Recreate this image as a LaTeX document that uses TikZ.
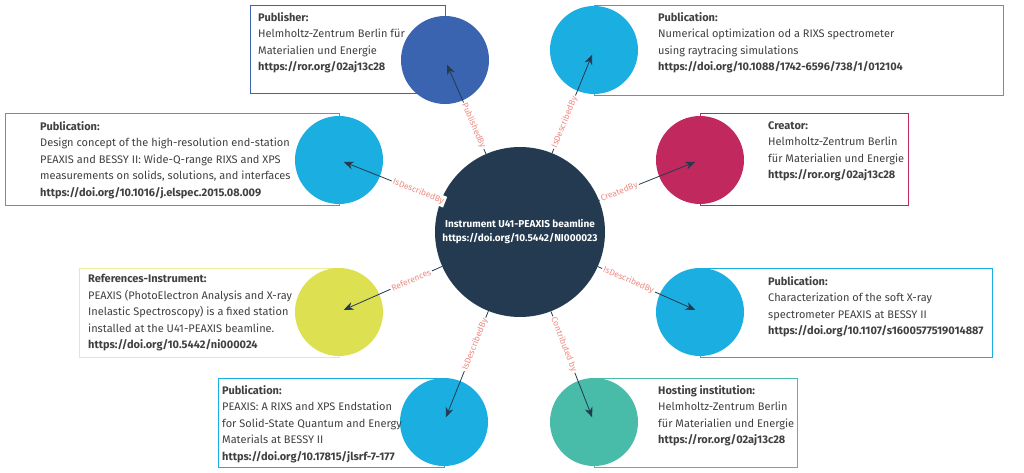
\documentclass[tikz,border=0pt]{standalone}
\usepackage{fontspec}
\setmainfont{Fira Sans}
\usetikzlibrary{arrows.meta,positioning}
\definecolor{hubblue}{HTML}{233A50}
\definecolor{pubblue}{HTML}{3A63B0}
\definecolor{skyblue}{HTML}{1AAFE0}
\definecolor{creatorred}{HTML}{C0285E}
\definecolor{refyellow}{HTML}{DDE050}
\definecolor{hostteal}{HTML}{48BCA8}
\definecolor{relsalmon}{HTML}{F08A80}
\tikzset{
  box/.style={draw, line width=0.9pt, rectangle, anchor=north west, inner sep=0pt},
  dot/.style={circle, minimum size=88pt, inner sep=0pt},
  info/.style={align=left, anchor=north west, inner sep=0pt, font=\fontsize{11}{16.5}\selectfont, text=black!75},
  rel/.style={draw=hubblue, thick, -{Stealth[length=10pt,width=8pt]}, shorten >=5pt},
  rellab/.style={sloped, fill=white, inner sep=1.5pt, text=relsalmon, font=\fontsize{8.5}{9}\selectfont}
}
\begin{document}
\begin{tikzpicture}[x=1pt, y=-1pt]
    \useasboundingbox[fill=white] (0,0) rectangle (1024,473);
    % boxes
    \node [box, draw=pubblue, minimum width=195pt, minimum height=88pt] (b1) at (250,5) {};
    \node [box, draw=skyblue, minimum width=409pt, minimum height=90pt] (b2) at (594,5) {};
    \node [box, draw=skyblue, minimum width=334pt, minimum height=92pt] (b3) at (5,113) {};
    \node [box, draw=creatorred, minimum width=208pt, minimum height=92pt] (b4) at (700,113) {};
    \node [box, draw=refyellow!60, minimum width=260pt, minimum height=89pt] (b5) at (79,268) {};
    \node [box, draw=skyblue, minimum width=292pt, minimum height=89pt] (b6) at (700,268) {};
    \node [box, draw=skyblue, minimum width=226pt, minimum height=89pt] (b7) at (218,378) {};
    \node [box, draw=hostteal, minimum width=203pt, minimum height=89pt] (b8) at (594,378) {};
    % circles
    \node [dot, fill=pubblue] (pub) at (445,60) {};
    \node [dot, fill=skyblue] (num) at (594,50) {};
    \node [dot, fill=skyblue] (des) at (339,160) {};
    \node [dot, fill=creatorred] (cre) at (700,160) {};
    \node [dot, fill=refyellow] (ref) at (339,312) {};
    \node [dot, fill=skyblue] (cha) at (700,312) {};
    \node [dot, fill=skyblue] (end) at (444,422) {};
    \node [dot, fill=hostteal] (hos) at (594,422) {};
    \node [circle, fill=hubblue, minimum size=170pt, inner sep=0pt, align=center, text=white,
           font=\bfseries\fontsize{10}{14}\selectfont] (hub) at (520,232)
           {Instrument U41-PEAXIS beamline\\https://doi.org/10.5442/NI000023};
    % texts
    \node [info] at (258,12) {\textbf{Publisher:}\\Helmholtz-Zentrum Berlin für\\Materialien und Energie\\\textbf{https://ror.org/02aj13c28}};
    \node [info] at (658,12) {\textbf{Publication:}\\Numerical optimization od a RIXS spectrometer\\using raytracing simulations\\\textbf{https://doi.org/10.1088/1742-6596/738/1/012104}};
    \node [info] at (40,121) {\textbf{Publication:}\\Design concept of the high-resolution end-station\\PEAXIS and BESSY II: Wide-Q-range RIXS and XPS\\measurements on solids, solutions, and interfaces\\\textbf{https://doi.org/10.1016/j.elspec.2015.08.009}};
    \node [info] at (768,121) {\textbf{Creator:}\\Helmholtz-Zentrum Berlin\\für Materialien und Energie\\\textbf{https://ror.org/02aj13c28}};
    \node [info] at (88,274) {\textbf{References-Instrument:}\\PEAXIS (PhotoElectron Analysis and X-ray\\Inelastic Spectroscopy) is a fixed station\\installed at the U41-PEAXIS beamline.\\\textbf{https://doi.org/10.5442/ni000024}};
    \node [info] at (768,276) {\textbf{Publication:}\\Characterization of the soft X-ray\\spectrometer PEAXIS at BESSY II\\\textbf{https://doi.org/10.1107/s1600577519014887}};
    \node [info] at (222,385) {\textbf{Publication:}\\PEAXIS: A RIXS and XPS Endstation\\for Solid-State Quantum and Energy\\Materials at BESSY II\\\textbf{https://doi.org/10.17815/jlsrf-7-177}};
    \node [info] at (658,385) {\textbf{Hosting institution:}\\Helmholtz-Zentrum Berlin\\für Materialien und Energie\\\textbf{https://ror.org/02aj13c28}};
    % relations
    \draw [rel] (hub) -- node [rellab, pos=0.3] {PublishedBy} (pub.center);
    \draw [rel] (hub) -- node [rellab, pos=0.3] {IsDescribedBy} (num.center);
    \draw [rel] (hub) -- node [rellab, pos=0.22] {IsDescribedBy} (des.center);
    \draw [rel] (hub) -- node [rellab, pos=0.2] {CreatedBy} (cre.center);
    \draw [rel] (hub) -- node [rellab, pos=0.3] {References} (ref.center);
    \draw [rel] (hub) -- node [rellab, pos=0.3] {IsDescribedBy} (cha.center);
    \draw [rel] (hub) -- node [rellab, pos=0.3] {IsDescribedBy} (end.center);
    \draw [rel] (hub) -- node [rellab, pos=0.3] {Contributed by} (hos.center);
\end{tikzpicture}
\end{document}
